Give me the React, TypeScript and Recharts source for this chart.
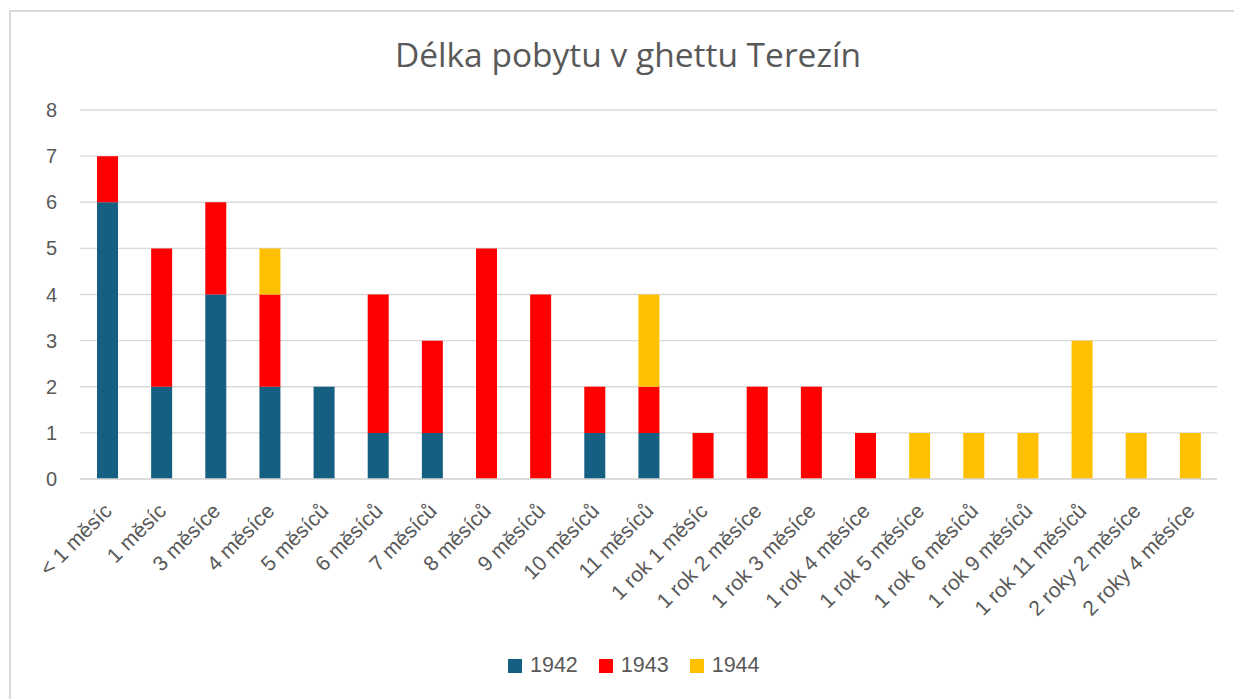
import { Bar, BarChart, CartesianGrid, XAxis, YAxis } from "recharts";

const categories = [
  "< 1 měsíc",
  "1 měsíc",
  "3 měsíce",
  "4 měsíce",
  "5 měsíců",
  "6 měsíců",
  "7 měsíců",
  "8 měsíců",
  "9 měsíců",
  "10 měsíců",
  "11 měsíců",
  "1 rok 1 měsíc",
  "1 rok 2 měsíce",
  "1 rok 3 měsíce",
  "1 rok 4 měsíce",
  "1 rok 5 měsíce",
  "1 rok 6 měsíců",
  "1 rok 9 měsíců",
  "1 rok 11 měsíců",
  "2 roky 2 měsíce",
  "2 roky 4 měsíce",
];

const values1942 = [6, 2, 4, 2, 2, 1, 1, 0, 0, 1, 1, 0, 0, 0, 0, 0, 0, 0, 0, 0, 0];
const values1943 = [1, 3, 2, 2, 0, 3, 2, 5, 4, 1, 1, 1, 2, 2, 1, 0, 0, 0, 0, 0, 0];
const values1944 = [0, 0, 0, 1, 0, 0, 0, 0, 0, 0, 2, 0, 0, 0, 0, 1, 1, 1, 3, 1, 1];

const yTicks = [0, 1, 2, 3, 4, 5, 6, 7, 8];

const series = [
  { key: "y1942", name: "1942", color: "#156082", values: values1942 },
  { key: "y1943", name: "1943", color: "#FF0000", values: values1943 },
  { key: "y1944", name: "1944", color: "#FFC000", values: values1944 },
];

const data = categories.map((name, i) => ({
  name,
  y1942: values1942[i],
  y1943: values1943[i],
  y1944: values1944[i],
}));

const TEXT = "#595959";
const FONT = "'Liberation Sans', Arial, sans-serif";

function SlantedTick({ x, y, payload }: { x?: number; y?: number; payload?: { value: string } }) {
  return (
    <g transform={`translate(${(x ?? 0) + 1},${(y ?? 0) + 20})`}>
      <text
        transform="rotate(-45)"
        textAnchor="end"
        dy="0.35em"
        fill={TEXT}
        fontSize={21}
        fontFamily={FONT}
      >
        {payload?.value}
      </text>
    </g>
  );
}

export default function App() {
  return (
    <div
      style={{
        position: "fixed",
        left: 0,
        top: 0,
        width: 1234,
        height: 699,
        background: "#fff",
        overflow: "hidden",
      }}
    >
      {/* chart frame */}
      <div
        style={{
          position: "absolute",
          left: 9,
          top: 10,
          width: 1300,
          height: 800,
          borderTop: "2px solid #d9d9d9",
          borderLeft: "2px solid #d9d9d9",
        }}
      />
      <div
        style={{
          position: "absolute",
          top: 31,
          left: 0,
          width: 1256,
          textAlign: "center",
          fontFamily: "'Open Sans', sans-serif",
          fontSize: 33.5,
          color: TEXT,
        }}
      >
        Délka pobytu v ghettu Terezín
      </div>
      <div style={{ position: "absolute", left: 0, top: 0 }}>
        <BarChart
          width={1234}
          height={699}
          data={data}
          margin={{ top: 110, right: 17, left: 40, bottom: 70 }}
          barSize={21}
        >
          <CartesianGrid vertical={false} stroke="#d9d9d9" strokeWidth={1.3} />
          <XAxis
            dataKey="name"
            interval={0}
            tickLine={false}
            axisLine={{ stroke: "#d9d9d9", strokeWidth: 1.3 }}
            height={150}
            tick={<SlantedTick />}
          />
          <YAxis
            domain={[0, 8]}
            ticks={yTicks}
            width={40}
            axisLine={false}
            tickLine={false}
            tickSize={0}
            tickMargin={23}
            tick={{ fill: TEXT, fontSize: 20, fontFamily: FONT }}
          />
          {series.map((s) => (
            <Bar
              key={s.key}
              dataKey={s.key}
              name={s.name}
              stackId="a"
              fill={s.color}
              isAnimationActive={false}
            />
          ))}
        </BarChart>
      </div>
      {/* legend */}
      <div
        style={{
          position: "absolute",
          top: 653,
          left: 508,
          display: "flex",
          gap: 21,
          fontFamily: FONT,
          fontSize: 21.5,
          color: TEXT,
        }}
      >
        {series.map((s) => (
          <div key={s.key} style={{ display: "flex", alignItems: "center", gap: 8 }}>
            <span style={{ width: 14, height: 14, background: s.color, display: "inline-block" }} />
            <span>{s.name}</span>
          </div>
        ))}
      </div>
    </div>
  );
}
